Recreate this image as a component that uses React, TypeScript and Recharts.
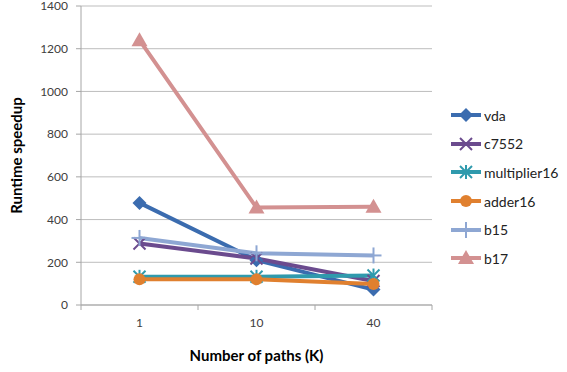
import React from 'react'
import { LineChart, Line, XAxis, YAxis, CartesianGrid } from 'recharts'

const categories = ['1', '10', '40']
const vda = [478, 210, 72]
const c7552 = [288, 218, 112]
const multiplier16 = [132, 132, 138]
const adder16 = [120, 120, 98]
const b15 = [314, 242, 232]
const b17 = [1240, 456, 460]
const yTicks = [0, 200, 400, 600, 800, 1000, 1200, 1400]

const series = [
  { key: 'vda', values: vda, color: '#3b6caf', marker: 'diamond' },
  { key: 'c7552', values: c7552, color: '#6b4b8e', marker: 'x' },
  { key: 'multiplier16', values: multiplier16, color: '#2f9aad', marker: 'star' },
  { key: 'adder16', values: adder16, color: '#e0802f', marker: 'circle' },
  { key: 'b15', values: b15, color: '#8ea7d3', marker: 'plus' },
  { key: 'b17', values: b17, color: '#d39191', marker: 'triangle' },
]

const data = categories.map((c, i) => {
  const row: any = { x: i + 1, label: c }
  series.forEach(s => { row[s.key] = s.values[i] })
  return row
})

const FONT = 'Lato, "Open Sans", sans-serif'

function Marker({ kind, cx, cy, color }: { kind: string; cx: number; cy: number; color: string }) {
  if (kind === 'diamond') {
    return <path d={`M${cx},${cy - 7}L${cx + 7},${cy}L${cx},${cy + 7}L${cx - 7},${cy}Z`} fill={color} />
  }
  if (kind === 'circle') return <circle cx={cx} cy={cy} r={6} fill={color} />
  if (kind === 'triangle') {
    return <path d={`M${cx},${cy - 8}L${cx + 8},${cy + 6}L${cx - 8},${cy + 6}Z`} fill={color} />
  }
  if (kind === 'x') {
    return (
      <g stroke={color} strokeWidth={2}>
        <line x1={cx - 6} y1={cy - 6} x2={cx + 6} y2={cy + 6} />
        <line x1={cx - 6} y1={cy + 6} x2={cx + 6} y2={cy - 6} />
      </g>
    )
  }
  if (kind === 'plus') {
    return (
      <g stroke={color} strokeWidth={2}>
        <line x1={cx} y1={cy - 8} x2={cx} y2={cy + 8} />
        <line x1={cx - 8} y1={cy} x2={cx + 8} y2={cy} />
      </g>
    )
  }
  // asterisk
  return (
    <g stroke={color} strokeWidth={2}>
      <line x1={cx - 6} y1={cy - 6} x2={cx + 6} y2={cy + 6} />
      <line x1={cx - 6} y1={cy + 6} x2={cx + 6} y2={cy - 6} />
      <line x1={cx} y1={cy - 7} x2={cx} y2={cy + 7} />
    </g>
  )
}

const XTick = (props: any) => {
  const { x, y, payload } = props
  const v = payload.value
  if (Number.isInteger(v)) {
    return (
      <text x={x} y={y} dy={4} textAnchor="middle" fill="#404040" fontSize={12} fontFamily={FONT}>
        {categories[v - 1]}
      </text>
    )
  }
  return <line x1={x} x2={x} y1={y - 18} y2={y - 13} stroke="#a6a6a6" />
}

const LegendBox = () => (
  <div style={{ position: 'absolute', left: 451, top: 101, fontFamily: FONT, fontSize: 14, color: '#222' }}>
    {series.map(s => (
      <div key={s.key} style={{ display: 'flex', alignItems: 'center', height: 28.6 }}>
        <svg width={33} height={16}>
          <line x1={0} y1={8} x2={30} y2={8} stroke={s.color} strokeWidth={4} />
          <Marker kind={s.marker} cx={15} cy={8} color={s.color} />
        </svg>
        <span>{s.key}</span>
      </div>
    ))}
  </div>
)

export default function App() {
  return (
    <div style={{ position: 'absolute', left: 0, top: 0, width: 567, height: 372, background: '#fff' }}>
      <LineChart width={567} height={372} data={data} margin={{ top: 6, right: 135, bottom: 7, left: 0 }}>
        <CartesianGrid vertical={false} stroke="#bdbdbd" />
        <XAxis
          dataKey="x"
          type="number"
          domain={[0.5, 3.5]}
          ticks={[0.5, 1, 1.5, 2, 2.5, 3, 3.5]}
          interval={0}
          height={60}
          stroke="#a6a6a6"
          tickLine={false}
          tickSize={6}
          tickMargin={12}
          tick={<XTick />}
          label={{
            value: 'Number of paths (K)', position: 'insideBottom', offset: 4,
            style: { fontFamily: FONT, fontSize: 15, fontWeight: 'bold', fill: '#000' },
          }}
        />
        <YAxis
          domain={[0, 1400]}
          ticks={yTicks}
          interval={0}
          width={81}
          stroke="#a6a6a6"
          tickSize={5}
          tickMargin={8}
          tick={{ fill: '#404040', fontSize: 12, fontFamily: FONT }}
          label={{
            value: 'Runtime speedup', angle: -90, position: 'insideLeft', offset: 17,
            style: { fontFamily: FONT, fontSize: 15, fontWeight: 'bold', fill: '#000', textAnchor: 'middle' },
          }}
        />
        {series.map(s => (
          <Line
            key={s.key}
            dataKey={s.key}
            stroke={s.color}
            strokeWidth={4}
            isAnimationActive={false}
            dot={(p: any) => <Marker key={`${s.key}-${p.index}`} kind={s.marker} cx={p.cx} cy={p.cy} color={s.color} />}
            activeDot={false}
          />
        ))}
      </LineChart>
      <LegendBox />
    </div>
  )
}
